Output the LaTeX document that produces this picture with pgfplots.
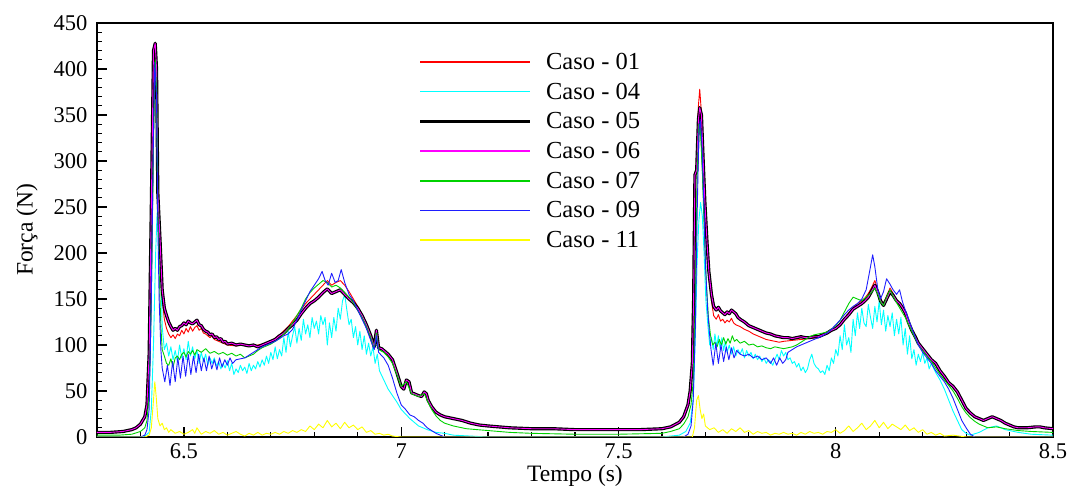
\documentclass[border=0pt]{standalone}
\usepackage{fontspec}
\setmainfont{Liberation Serif}
\usepackage{pgfplots}
\pgfplotsset{compat=1.18}
\usepackage{pgfplotstable}
\definecolor{cRed}{RGB}{255,0,0}
\definecolor{cCyan}{RGB}{0,255,255}
\definecolor{cMag}{RGB}{255,0,255}
\definecolor{cGreen}{RGB}{0,210,0}
\definecolor{cBlue}{RGB}{30,30,255}
\definecolor{cYellow}{RGB}{255,255,0}

\pgfplotstableread{
x y
6.30 5
6.33 5
6.36 6
6.38 8
6.39 10
6.40 14
6.41 22
6.415 35
6.42 90
6.425 250
6.430 420
6.434 428
6.437 400
6.440 265
6.445 215
6.450 160
6.455 140
6.460 132
6.465 125
6.470 120
6.475 116
6.480 118
6.485 116
6.490 120
6.495 121
6.500 124
6.505 122
6.510 126
6.515 124
6.520 123
6.525 125
6.530 127
6.535 122
6.540 121
6.545 117
6.550 115
6.555 114
6.560 111
6.565 112
6.570 108
6.575 109
6.580 106
6.585 107
6.590 103
6.595 104
6.600 101
6.610 102
6.620 100
6.630 101
6.640 100
6.650 99
6.660 100
6.670 98
6.680 100
6.690 102
6.700 104
6.710 106
6.720 110
6.730 113
6.740 118
6.750 122
6.760 127
6.770 134
6.780 140
6.790 145
6.800 148
6.810 152
6.820 157
6.830 161
6.840 156
6.850 158
6.860 160
6.870 155
6.880 150
6.890 146
6.900 140
6.910 132
6.920 122
6.930 110
6.938 98
6.943 116
6.948 97
6.955 96
6.960 94
6.970 90
6.980 84
6.990 70
7.000 55
7.006 52
7.012 62
7.018 60
7.024 48
7.030 47
7.040 45
7.047 44
7.053 49
7.058 47
7.062 40
7.070 33
7.080 27
7.090 24
7.100 22
7.110 21
7.120 20
7.130 19
7.140 18
7.160 15
7.180 13
7.200 12
7.250 10
7.300 9
7.350 9
7.400 8
7.450 8
7.500 8
7.550 8
7.600 9
7.620 11
7.640 16
7.650 22
7.660 35
7.665 50
7.670 80
7.673 150
7.676 285
7.680 290
7.684 345
7.687 358
7.691 350
7.695 300
7.699 254
7.704 210
7.708 180
7.714 155
7.719 142
7.725 138
7.730 141
7.735 137
7.740 135
7.745 133
7.750 136
7.755 134
7.760 138
7.765 136
7.770 134
7.775 130
7.780 128
7.790 125
7.800 121
7.810 119
7.820 117
7.830 115
7.840 113
7.850 112
7.860 110
7.870 109
7.880 108
7.890 108
7.900 107
7.910 108
7.920 109
7.930 108
7.940 108
7.950 109
7.960 109
7.970 111
7.980 113
7.990 116
8.000 118
8.010 122
8.020 128
8.030 133
8.040 139
8.050 142
8.060 145
8.067 148
8.075 152
8.082 158
8.090 165
8.097 157
8.103 148
8.110 143
8.117 150
8.125 158
8.132 154
8.140 148
8.147 145
8.153 141
8.160 135
8.168 124
8.175 116
8.183 109
8.190 102
8.200 96
8.210 90
8.220 84
8.230 80
8.240 72
8.250 66
8.260 59
8.270 55
8.280 49
8.290 40
8.300 31
8.310 26
8.320 22
8.330 20
8.340 18
8.350 20
8.360 22
8.370 20
8.380 18
8.390 15
8.400 13
8.410 11
8.420 10
8.440 10
8.460 11
8.470 11
8.480 10
8.500 9
}\casecinco

\pgfplotstableread{
x y
6.30 5
6.33 5
6.36 6
6.38 8
6.39 10
6.40 14
6.41 22
6.415 35
6.42 90
6.425 250
6.430 420
6.434 428
6.437 400
6.440 265
6.445 210
6.450 150
6.455 128
6.460 118
6.465 112
6.470 108
6.475 111
6.480 107
6.485 112
6.490 110
6.495 116
6.500 112
6.505 118
6.510 114
6.515 120
6.520 115
6.525 119
6.530 121
6.535 116
6.540 118
6.545 113
6.550 112
6.555 110
6.560 108
6.565 110
6.570 106
6.580 104
6.590 102
6.600 100
6.620 99
6.640 100
6.660 99
6.680 101
6.700 104
6.720 111
6.740 120
6.760 132
6.780 145
6.800 155
6.810 160
6.820 165
6.830 170
6.840 165
6.850 168
6.860 170
6.870 165
6.880 158
6.890 150
6.900 142
6.910 133
6.920 122
6.930 110
6.938 98
6.943 116
6.948 97
6.955 96
6.960 94
6.970 90
6.980 84
6.990 70
7.000 55
7.006 52
7.012 62
7.018 60
7.024 48
7.030 47
7.040 45
7.047 44
7.053 49
7.058 47
7.062 40
7.070 33
7.080 27
7.090 24
7.100 22
7.120 20
7.140 18
7.160 15
7.180 13
7.200 12
7.250 10
7.300 9
7.400 8
7.500 8
7.600 9
7.620 11
7.640 16
7.650 22
7.660 35
7.665 50
7.670 80
7.673 150
7.676 285
7.680 300
7.684 360
7.687 378
7.691 352
7.695 300
7.699 250
7.704 205
7.708 175
7.714 148
7.719 132
7.725 128
7.730 133
7.735 126
7.740 128
7.745 124
7.750 127
7.755 125
7.760 129
7.765 124
7.770 122
7.780 120
7.790 117
7.800 115
7.810 112
7.820 110
7.830 108
7.840 106
7.850 105
7.860 104
7.870 103
7.880 104
7.900 105
7.920 106
7.940 107
7.960 108
7.980 112
8.000 118
8.010 123
8.020 129
8.030 135
8.040 141
8.050 145
8.060 148
8.067 151
8.075 156
8.082 162
8.090 170
8.097 160
8.103 150
8.110 145
8.117 153
8.125 162
8.132 156
8.140 149
8.147 146
8.153 142
8.160 135
8.168 124
8.175 116
8.183 109
8.190 102
8.200 96
8.210 90
8.220 84
8.230 80
8.240 72
8.250 66
8.260 59
8.270 55
8.280 49
8.290 40
8.300 31
8.310 26
8.320 22
8.330 20
8.340 18
8.350 20
8.360 22
8.370 20
8.380 18
8.390 15
8.400 13
8.420 10
8.460 11
8.500 9
}\caseum

\pgfplotstableread{
x y
6.30 2
6.35 2
6.38 3
6.40 6
6.41 10
6.415 18
6.42 45
6.425 150
6.430 320
6.434 410
6.437 380
6.440 250
6.443 180
6.447 120
6.450 95
6.455 88
6.460 80
6.465 78
6.470 85
6.475 76
6.480 86
6.485 88
6.490 84
6.495 90
6.500 92
6.505 87
6.510 93
6.515 90
6.520 94
6.525 89
6.530 95
6.540 92
6.550 96
6.560 91
6.570 93
6.580 90
6.590 92
6.600 89
6.610 91
6.620 88
6.630 90
6.640 86
6.650 88
6.660 90
6.670 94
6.680 97
6.690 99
6.700 101
6.710 104
6.720 107
6.730 112
6.740 117
6.750 124
6.760 132
6.770 140
6.780 150
6.790 157
6.800 162
6.810 166
6.820 170
6.830 168
6.840 163
6.850 165
6.860 162
6.870 157
6.880 152
6.890 146
6.900 138
6.910 130
6.920 120
6.930 108
6.938 96
6.943 113
6.948 95
6.960 92
6.970 87
6.980 80
6.990 68
7.000 55
7.012 60
7.024 47
7.040 44
7.053 47
7.062 38
7.070 30
7.080 23
7.090 18
7.100 15
7.120 12
7.150 9
7.200 7
7.250 5
7.300 4
7.400 3
7.500 3
7.600 4
7.620 6
7.640 9
7.650 14
7.660 22
7.667 35
7.672 60
7.677 150
7.681 280
7.685 340
7.689 330
7.693 290
7.697 230
7.702 170
7.707 130
7.712 110
7.717 100
7.722 103
7.727 98
7.732 106
7.737 100
7.742 108
7.747 101
7.752 107
7.757 102
7.762 110
7.767 104
7.772 106
7.780 102
7.790 104
7.800 100
7.810 101
7.820 98
7.830 99
7.840 97
7.850 96
7.860 98
7.870 97
7.880 96
7.890 97
7.900 98
7.910 100
7.920 103
7.930 106
7.940 109
7.950 111
7.960 112
7.970 113
7.980 114
7.990 117
8.000 121
8.010 127
8.020 136
8.030 145
8.040 152
8.050 150
8.060 148
8.070 152
8.080 156
8.090 162
8.097 155
8.103 147
8.110 143
8.117 152
8.125 160
8.132 153
8.140 146
8.150 138
8.160 130
8.170 120
8.180 110
8.190 100
8.200 94
8.210 88
8.220 82
8.230 75
8.240 68
8.250 62
8.260 56
8.270 50
8.280 42
8.290 33
8.300 26
8.310 21
8.320 17
8.330 14
8.340 12
8.350 10
8.370 11
8.390 9
8.420 7
8.450 6
8.500 5
}\casesete

\pgfplotstableread{
x y
6.30 0
6.40 0
6.41 2
6.415 8
6.420 30
6.425 150
6.430 330
6.433 407
6.437 370
6.440 230
6.443 150
6.447 95
6.450 75
6.456 60
6.462 78
6.468 56
6.474 82
6.480 60
6.486 86
6.492 64
6.498 88
6.504 66
6.510 90
6.516 68
6.522 88
6.528 70
6.534 90
6.540 72
6.546 86
6.552 72
6.558 88
6.564 74
6.570 84
6.576 73
6.582 86
6.588 76
6.594 84
6.600 78
6.606 86
6.612 80
6.620 84
6.630 85
6.640 86
6.650 89
6.660 92
6.670 95
6.680 98
6.690 100
6.700 102
6.710 104
6.720 107
6.730 110
6.740 112
6.750 117
6.760 127
6.770 138
6.780 148
6.790 158
6.800 165
6.810 172
6.818 180
6.825 170
6.832 165
6.840 178
6.848 168
6.855 170
6.862 182
6.870 168
6.880 155
6.890 148
6.900 138
6.910 128
6.920 118
6.930 105
6.938 95
6.943 110
6.948 92
6.960 86
6.970 78
6.980 64
6.990 48
7.000 35
7.010 30
7.020 24
7.030 22
7.040 18
7.050 15
7.060 10
7.070 7
7.080 4
7.090 2
7.100 0
7.650 0
7.660 3
7.667 12
7.672 40
7.677 120
7.681 240
7.685 330
7.688 345
7.692 320
7.696 260
7.700 190
7.705 140
7.709 115
7.713 95
7.718 78
7.724 102
7.730 80
7.736 100
7.742 82
7.748 98
7.754 84
7.760 97
7.766 86
7.772 94
7.780 90
7.790 88
7.800 90
7.810 86
7.820 88
7.830 84
7.840 86
7.850 80
7.857 86
7.864 78
7.871 86
7.878 80
7.885 84
7.890 92
7.900 95
7.910 98
7.920 100
7.930 102
7.940 104
7.950 106
7.960 108
7.970 110
7.980 113
7.990 117
8.000 122
8.010 127
8.020 133
8.030 138
8.040 142
8.050 145
8.060 150
8.070 160
8.078 180
8.085 198
8.090 185
8.097 160
8.103 150
8.110 158
8.117 172
8.125 166
8.132 160
8.140 155
8.147 160
8.153 148
8.160 138
8.170 125
8.180 112
8.190 100
8.200 92
8.210 86
8.220 80
8.230 72
8.240 66
8.250 60
8.260 52
8.270 42
8.280 30
8.290 18
8.300 10
8.310 3
8.320 0
8.500 0
}\casenove

\pgfplotstableread{
x y
6.30 0
6.40 0
6.41 1
6.420 5
6.425 30
6.430 100
6.435 200
6.438 240
6.441 260
6.444 230
6.447 180
6.450 120
6.455 95
6.460 102
6.465 88
6.470 98
6.475 84
6.480 94
6.485 82
6.490 100
6.495 86
6.500 96
6.505 84
6.510 104
6.515 88
6.520 98
6.525 85
6.530 94
6.535 80
6.540 92
6.545 82
6.550 90
6.555 78
6.560 86
6.565 80
6.570 86
6.575 77
6.580 82
6.585 74
6.590 80
6.595 75
6.600 83
6.605 72
6.610 80
6.615 68
6.620 74
6.625 70
6.630 78
6.635 72
6.640 76
6.645 69
6.650 80
6.655 72
6.660 78
6.665 74
6.670 82
6.675 76
6.680 84
6.685 78
6.690 88
6.695 80
6.700 92
6.705 84
6.710 98
6.715 85
6.720 95
6.725 88
6.730 108
6.735 92
6.740 115
6.745 98
6.750 110
6.755 120
6.760 102
6.765 118
6.770 105
6.775 128
6.780 112
6.785 122
6.790 108
6.795 130
6.800 118
6.805 126
6.810 112
6.815 132
6.820 122
6.825 130
6.830 100
6.835 124
6.840 108
6.845 130
6.850 115
6.855 140
6.860 128
6.865 148
6.870 155
6.875 138
6.880 122
6.885 128
6.890 108
6.895 120
6.900 100
6.905 115
6.910 95
6.915 110
6.920 90
6.925 102
6.930 88
6.935 98
6.940 80
6.945 90
6.950 72
6.960 62
6.970 52
6.980 45
6.990 38
7.000 30
7.010 25
7.020 20
7.030 16
7.040 12
7.050 10
7.060 8
7.080 5
7.100 4
7.120 2
7.200 0
7.600 0
7.640 2
7.655 6
7.665 15
7.672 40
7.677 110
7.681 190
7.685 235
7.689 255
7.693 240
7.697 200
7.701 150
7.706 120
7.710 100
7.714 108
7.718 95
7.722 112
7.726 98
7.730 110
7.734 96
7.738 108
7.742 94
7.746 104
7.750 92
7.755 100
7.760 90
7.765 98
7.770 88
7.775 95
7.780 90
7.785 96
7.790 86
7.795 94
7.800 88
7.805 92
7.810 85
7.815 90
7.820 84
7.825 88
7.830 82
7.835 86
7.840 80
7.845 84
7.850 82
7.855 78
7.860 84
7.865 90
7.870 84
7.875 94
7.880 88
7.885 92
7.890 84
7.895 86
7.900 80
7.905 82
7.910 76
7.915 80
7.920 72
7.925 76
7.930 70
7.935 74
7.940 84
7.945 90
7.950 80
7.955 76
7.960 74
7.965 70
7.970 72
7.975 68
7.980 78
7.985 72
7.990 86
7.995 80
8.000 95
8.005 88
8.010 110
8.015 95
8.020 122
8.025 100
8.030 108
8.035 92
8.040 128
8.045 110
8.050 135
8.055 118
8.060 140
8.065 124
8.070 120
8.075 144
8.080 130
8.085 118
8.090 142
8.095 125
8.100 148
8.105 122
8.110 138
8.115 115
8.120 132
8.125 120
8.130 135
8.135 110
8.140 128
8.145 112
8.150 130
8.155 100
8.160 118
8.165 90
8.170 110
8.175 85
8.180 95
8.185 78
8.190 90
8.195 82
8.200 92
8.205 80
8.210 86
8.215 74
8.220 80
8.230 70
8.240 62
8.250 52
8.260 40
8.270 28
8.280 18
8.290 8
8.300 4
8.310 2
8.330 5
8.350 10
8.370 12
8.390 8
8.420 5
8.450 3
8.500 2
}\casequatro

\pgfplotstableread{
x y
6.30 0
6.41 0
6.420 2
6.425 10
6.430 40
6.433 60
6.436 45
6.440 20
6.445 12
6.450 15
6.455 8
6.460 10
6.465 5
6.470 8
6.480 4
6.490 6
6.500 3
6.510 5
6.520 8
6.525 4
6.530 10
6.540 3
6.550 6
6.560 4
6.570 7
6.580 3
6.590 5
6.600 2
6.610 4
6.620 6
6.630 3
6.640 1
6.650 4
6.660 2
6.670 5
6.680 2
6.690 4
6.700 3
6.710 5
6.720 3
6.730 6
6.740 4
6.750 7
6.760 5
6.770 8
6.780 6
6.790 12
6.800 8
6.810 14
6.820 10
6.830 18
6.840 11
6.850 15
6.860 9
6.870 16
6.880 10
6.890 13
6.900 8
6.910 11
6.920 5
6.930 7
6.940 3
6.950 4
6.960 2
6.970 3
6.980 1
7.000 0
7.670 0
7.675 10
7.680 40
7.684 45
7.688 30
7.692 20
7.696 25
7.700 12
7.710 8
7.720 10
7.730 5
7.740 8
7.750 4
7.760 9
7.770 6
7.780 10
7.790 5
7.800 7
7.810 3
7.820 6
7.830 4
7.840 5
7.850 2
7.860 4
7.870 3
7.880 5
7.890 3
7.900 4
7.910 2
7.920 5
7.930 3
7.940 6
7.950 4
7.960 5
7.970 3
7.980 6
7.990 5
8.000 8
8.010 4
8.020 7
8.030 12
8.040 6
8.050 10
8.060 15
8.070 8
8.080 12
8.090 18
8.100 10
8.110 16
8.120 9
8.130 14
8.140 11
8.150 8
8.160 13
8.170 7
8.180 10
8.190 5
8.200 8
8.210 3
8.220 5
8.230 2
8.240 4
8.250 1
8.270 2
8.300 0
8.500 0
}\caseonze

\begin{document}
\begin{tikzpicture}
\begin{axis}[
  scale only axis, width=956pt, height=414pt,
  xmin=6.3, xmax=8.5, ymin=0, ymax=450,
  xtick={6.5,7,7.5,8,8.5},
  minor xtick={6.3,6.4,...,8.45},
  ytick={0,50,...,450},
  minor ytick={0,10,...,450},
  tick align=inside, xtick pos=bottom, ytick pos=left,
  major tick length=10pt, minor tick length=5pt,
  axis line style={line width=1.6pt},
  every tick/.style={line width=1.2pt, black},
  /pgf/number format/assume math mode=true,
  ticklabel style={font=\fontsize{22.5}{27}\selectfont},
  yticklabel style={xshift=-6pt},
  xticklabel style={yshift=-3pt},
  xlabel={Tempo (s)}, ylabel={Força (N)},
  label style={font=\fontsize{23.5}{28}\selectfont},
  xlabel style={at={(axis description cs:0.5,0)}, anchor=center, yshift=-38.5pt},
  ylabel style={at={(axis description cs:-0.0732,0.5)}, anchor=center},
  legend style={draw=none, fill=none, at={(axis description cs:0.333,0.945)}, anchor=north west,
    font=\fontsize{24.5}{29}\selectfont, row sep=1.7pt},
  legend cell align=left,
  legend image code/.code={\draw[#1] (0pt,0pt) -- (110pt,0pt); \path[draw=none,fill=none] (0pt,-14pt) rectangle (124pt,14pt);},
  every axis plot/.append style={line join=round},
]
\addplot[cRed, line width=0.9pt, legend image post style={line width=1.5pt}] table {\caseum};
\addlegendentry{Caso - 01}
\addplot[cCyan, line width=0.9pt, legend image post style={line width=1.5pt}] table {\casequatro};
\addlegendentry{Caso - 04}
\addplot[black, line width=3.2pt] table {\casecinco};
\addlegendentry{Caso - 05}
\addplot[cMag, line width=0.9pt, legend image post style={line width=1.5pt}] table {\casecinco};
\addlegendentry{Caso - 06}
\addplot[cGreen, line width=0.9pt, legend image post style={line width=1.5pt}] table {\casesete};
\addlegendentry{Caso - 07}
\addplot[cBlue, line width=0.9pt, legend image post style={line width=1.5pt}] table {\casenove};
\addlegendentry{Caso - 09}
\addplot[cYellow, line width=0.9pt, legend image post style={line width=1.5pt}] table {\caseonze};
\addlegendentry{Caso - 11}
\coordinate (bl) at (rel axis cs:0,0);
\coordinate (tr) at (rel axis cs:1,1);
\end{axis}
\pgfresetboundingbox
\path[use as bounding box] ([xshift=-97pt,yshift=-49pt]bl) rectangle ([xshift=14pt,yshift=23pt]tr);
\end{tikzpicture}
\end{document}
